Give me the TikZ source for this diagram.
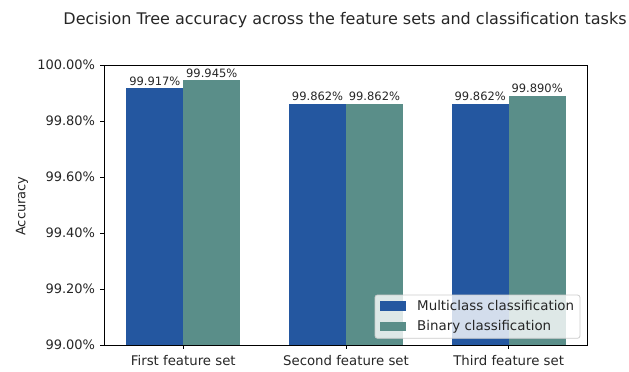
\documentclass[tikz,border=0pt]{standalone}
\usepackage{fontspec}
\setmainfont{DejaVu Sans}
\definecolor{mcblue}{HTML}{2457A0}
\definecolor{bingreen}{HTML}{5A8E89}
\definecolor{txt}{HTML}{262626}
\begin{document}
\begin{tikzpicture}[x=1pt,y=-1pt,
  bar/.style={draw=none},
  tick/.style={line width=1pt,black},
  ticklbl/.style={font=\fontsize{13}{15}\selectfont,text=txt,inner sep=0pt},
  xticklbl/.style={font=\fontsize{13.3}{16}\selectfont,text=txt,inner sep=0pt},
  leglbl/.style={font=\fontsize{13.4}{16}\selectfont,text=txt,inner sep=0pt},
  barlbl/.style={font=\fontsize{11.5}{14}\selectfont,text=txt,inner sep=0pt,anchor=south},
]
\useasboundingbox (0,0) rectangle (629,372);
% bars
\fill[mcblue] (126.4,345) rectangle (183.3,88.2);
\fill[bingreen] (183.3,345) rectangle (240.2,80.4);
\fill[mcblue] (289.1,345) rectangle (346.0,103.6);
\fill[bingreen] (346.0,345) rectangle (402.9,103.6);
\fill[mcblue] (451.8,345) rectangle (508.7,103.6);
\fill[bingreen] (508.7,345) rectangle (565.6,95.8);
% bar labels
\node[barlbl] (l1a) at (154.85,85.5) {99.917\%};
\node[barlbl] (l1b) at (211.75,77.7) {99.945\%};
\node[barlbl] (l2a) at (317.55,100.9) {99.862\%};
\node[barlbl] (l2b) at (374.45,100.9) {99.862\%};
\node[barlbl] (l3a) at (480.25,100.9) {99.862\%};
\node[barlbl] (l3b) at (537.15,93.1) {99.890\%};
% axes frame
\draw[line width=1pt,black] (104.4,65) rectangle (587.6,345);
% y ticks
\foreach \yy/\lab [count=\i] in {65/100.00, 121/99.80, 177/99.60, 233/99.40, 289/99.20, 345/99.00}{
  \draw[tick] (104.4,\yy) -- (100,\yy);
  \node[ticklbl,anchor=east] (yt\i) at (95.3,\yy) {\lab\%};
}
% x ticks
\foreach \xx/\lab [count=\i] in {183.3/First feature set, 346.0/Second feature set, 508.7/Third feature set}{
  \draw[tick] (\xx,345) -- (\xx,349.4);
  \node[xticklbl,anchor=north] (xt\i) at (\xx,355.5) {\lab};
}
% y label
\node[ticklbl,rotate=90] (ylab) at (22,206) {Accuracy};
% title
\node[font=\fontsize{16}{19}\selectfont,text=txt,inner sep=0pt] (title) at (345,20) {Decision Tree accuracy across the feature sets and classification tasks};
% legend
\draw[draw=black!20,fill=white,fill opacity=0.8,rounded corners=2.5pt,line width=0.8pt] (375,295) rectangle (580,338.3);
\fill[mcblue] (380,301) rectangle (406,311);
\fill[bingreen] (380,321.5) rectangle (406,331);
\node[leglbl,anchor=west] (leg1) at (417,305.8) {Multiclass classification};
\node[leglbl,anchor=west] (leg2) at (417,326.5) {Binary classification};
\end{tikzpicture}
\end{document}
